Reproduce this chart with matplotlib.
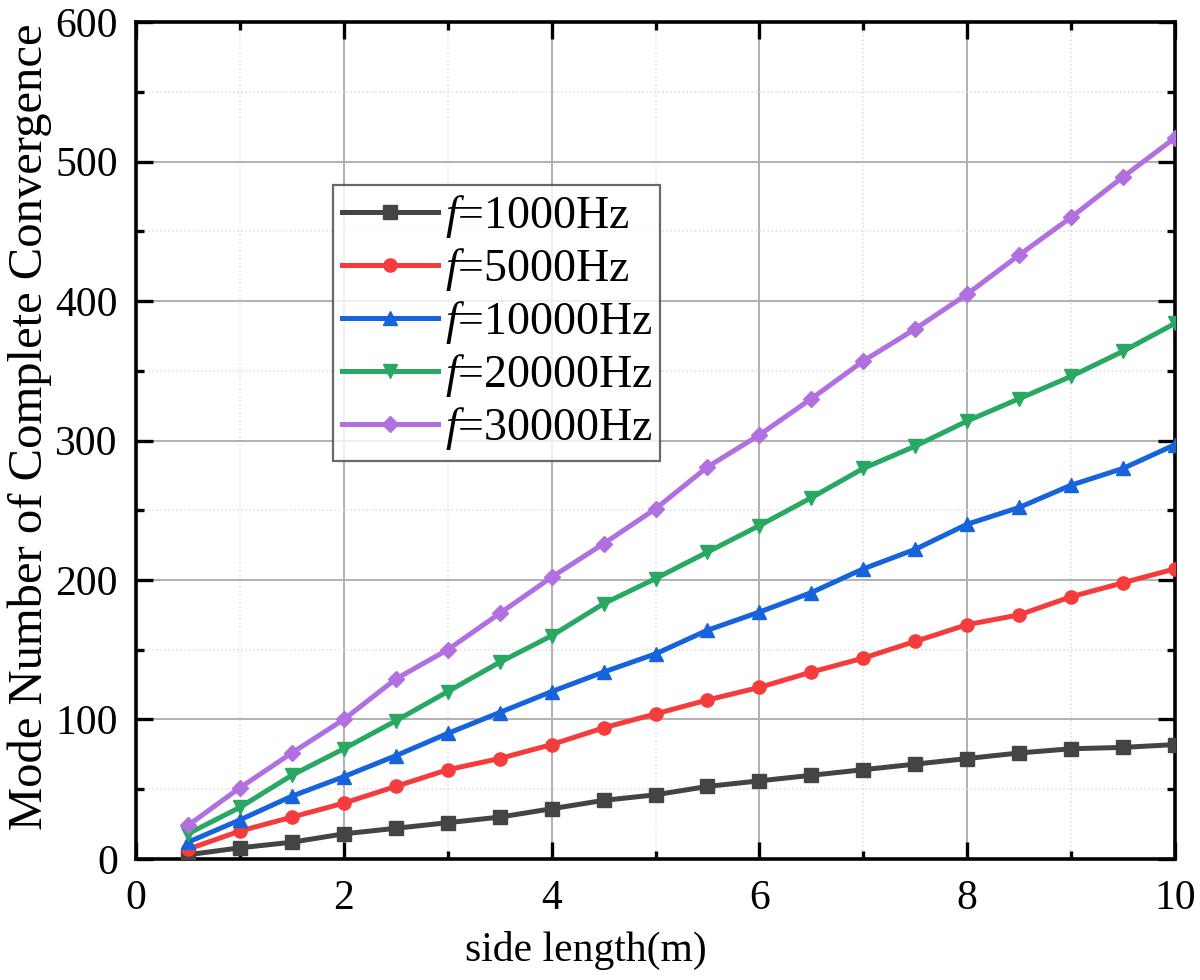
import matplotlib
matplotlib.use("Agg")
import matplotlib.pyplot as plt
from matplotlib.ticker import MultipleLocator

plt.rcParams['font.family'] = ['Liberation Serif', 'DejaVu Serif']
plt.rcParams['mathtext.fontset'] = 'custom'
plt.rcParams['mathtext.rm'] = 'Liberation Serif'
plt.rcParams['mathtext.it'] = 'Liberation Serif:italic'

side_length = [0.5, 1, 1.5, 2, 2.5, 3, 3.5, 4, 4.5, 5, 5.5, 6, 6.5, 7, 7.5, 8, 8.5, 9, 9.5, 10]
f1000 = [3, 8, 12, 18, 22, 26, 30, 36, 42, 46, 52, 56, 60, 64, 68, 72, 76, 79, 80, 82]
f5000 = [7, 20, 30, 40, 52, 64, 72, 82, 94, 104, 114, 123, 134, 144, 156, 168, 175, 188, 198, 208]
f10000 = [12, 28, 45, 59, 74, 90, 105, 120, 134, 147, 164, 177, 191, 208, 222, 240, 252, 268, 280, 297]
f20000 = [18, 37, 60, 79, 99, 120, 141, 160, 183, 201, 220, 239, 259, 280, 296, 314, 330, 346, 364, 384]
f30000 = [24, 51, 76, 100, 129, 150, 176, 202, 226, 251, 281, 304, 330, 357, 380, 405, 433, 460, 489, 517]

labels = ['$f$=1000Hz', '$f$=5000Hz', '$f$=10000Hz', '$f$=20000Hz', '$f$=30000Hz']
colors = ['#444444', '#f53c3c', '#1763dc', '#28a862', '#b070e0']
markers = ['s', 'o', '^', 'v', 'D']
series = [f1000, f5000, f10000, f20000, f30000]

fig = plt.figure(figsize=(12, 9.8), dpi=100)
ax = fig.add_axes([0.1133, 0.1235, 0.8659, 0.854])

for ys, lab, c, m in zip(series, labels, colors, markers):
    ms = 9.5 if m != 'D' else 8.5
    ax.plot(side_length, ys, color=c, marker=m, markersize=ms, linewidth=3.6,
            label=lab, zorder=3)

ax.set_xlim(0, 10)
ax.set_ylim(0, 600)
ax.xaxis.set_major_locator(MultipleLocator(2))
ax.xaxis.set_minor_locator(MultipleLocator(1))
ax.yaxis.set_major_locator(MultipleLocator(100))
ax.yaxis.set_minor_locator(MultipleLocator(50))

ax.grid(which='major', color='#b0b0b0', linewidth=1.4, linestyle='-', zorder=0)
ax.grid(which='minor', color='#dddddd', linewidth=1.1, linestyle=':', zorder=0)

ax.tick_params(which='both', direction='in', top=True, right=True, labelsize=30, width=2.4)
ax.tick_params(which='major', length=12)
ax.tick_params(which='minor', length=6)
ax.tick_params(axis='x', which='major', pad=15)
ax.tick_params(axis='y', which='major', pad=13)
for sp in ax.spines.values():
    sp.set_linewidth(2.6)

ax.set_xlabel('side length(m)', fontsize=30, va='top')
ax.xaxis.set_label_coords(0.433, -0.086)
ax.set_ylabel('Mode Number of Complete Convergence', fontsize=35)
ax.yaxis.set_label_coords(-0.081, 0.517)

leg = ax.legend(loc='upper left', bbox_to_anchor=(0.19, 0.805), fontsize=33,
                frameon=True, fancybox=False, edgecolor='#444444',
                handlelength=2.1, handletextpad=0.15, labelspacing=0.13,
                borderpad=0.18, borderaxespad=0)
leg.get_frame().set_linewidth(1.6)

fig.savefig('out.png', dpi=100)
